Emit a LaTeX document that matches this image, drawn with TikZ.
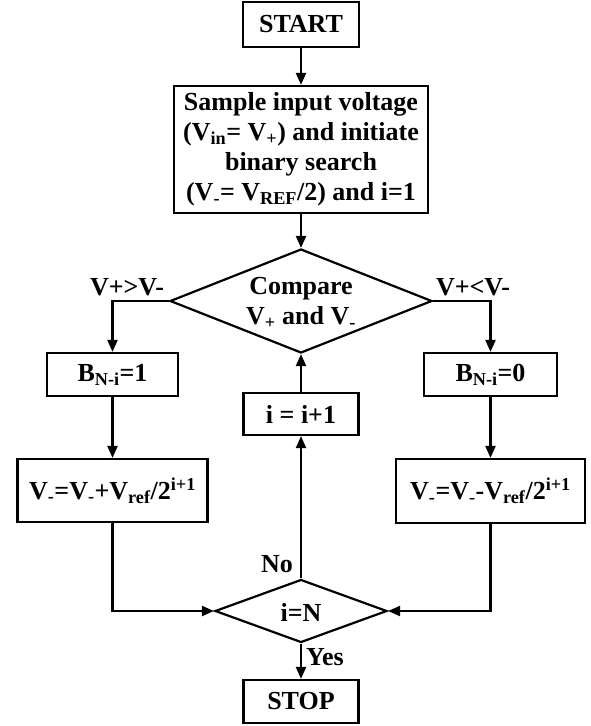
\documentclass[tikz,border=0pt]{standalone}
\usepackage{fontspec}
\setmainfont{Liberation Serif}
\usetikzlibrary{shapes.geometric,arrows.meta}
\begin{document}
\begin{tikzpicture}[x=1pt,y=-1pt,
  every node/.style={font=\fontsize{26}{30}\selectfont\bfseries, inner sep=0pt},
  box/.style={draw, line width=2.2pt, rectangle, align=center},
  dia/.style={draw, line width=2.2pt, diamond, aspect=1},
  conn/.style={line width=2.2pt, -{Triangle[length=12pt,width=10pt]}},
  lbl/.style={align=center}]
\useasboundingbox[fill=white] (0,0) rectangle (590,726);

\node[box, minimum width=116pt, minimum height=45pt] (start) at (301,24.5) {START};
\node[box, minimum width=254pt, minimum height=127pt] (sample) at (301,149.5)
  {Sample input voltage\\(V\textsubscript{in}= V\textsubscript{+}) and initiate\\binary search\\ (V\textsubscript{-}= V\textsubscript{REF}/2) and i=1};
\node[dia, minimum width=262pt, minimum height=104pt] (cmp) at (301,301) {};
\node[lbl] (cmptxt) at (301,303) {Compare\\V\textsubscript{+} and V\textsubscript{-}};
\node[lbl] (lgt) at (127,287) {V+>V-};
\node[lbl] (llt) at (473,287) {V+<V-};

\node[box, minimum width=131pt, minimum height=43pt] (b1) at (112.5,374.5) {B\textsubscript{N-i}=1};
\node[box, minimum width=133pt, minimum height=43pt] (b0) at (490.5,374.5) {B\textsubscript{N-i}=0};
\node[box, minimum width=115pt, minimum height=42pt] (inc) at (301,414) {i = i+1};

\node[box, minimum width=190pt, minimum height=63pt] (calc1) at (112.5,490.5) {V\textsubscript{-}=V\textsubscript{-}+V\textsubscript{ref}/2\textsuperscript{i+1}};
\node[box, minimum width=189pt, minimum height=64pt] (calc0) at (490.5,491) {V\textsubscript{-}=V\textsubscript{-}-V\textsubscript{ref}/2\textsuperscript{i+1}};

\node[dia, minimum width=172pt, minimum height=63pt] (chk) at (301,611) {};
\node[lbl] (chktxt) at (301,612) {i=N};
\node[lbl] (no) at (277,564) {No};
\node[lbl] (yes) at (325,657) {Yes};

\node[box, minimum width=115pt, minimum height=43pt] (stop) at (301,701.5) {STOP};

\draw[conn] (start) -- (sample);
\draw[conn] (sample) -- (cmp.north);
\draw[conn] (cmp.west) -| (b1.north);
\draw[conn] (cmp.east) -| (b0.north);
\draw[conn] (b1) -- (calc1);
\draw[conn] (b0) -- (calc0);
\draw[conn] (calc1.south) |- (chk.west);
\draw[conn] (calc0.south) |- (chk.east);
\draw[conn] (chk.north) -- (inc.south);
\draw[conn] (inc.north) -- (cmp.south);
\draw[conn] (chk.south) -- (stop.north);
\end{tikzpicture}
\end{document}
